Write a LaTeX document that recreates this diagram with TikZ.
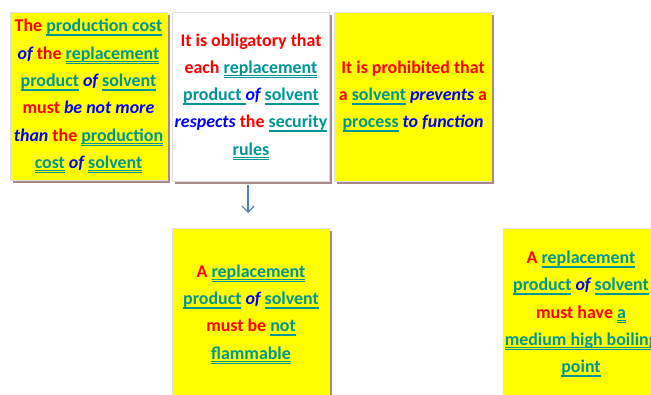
\documentclass[tikz,border=0pt]{standalone}
\usepackage{fontspec}
\setmainfont{Carlito}
\usetikzlibrary{arrows.meta,shadows}
\definecolor{tealc}{RGB}{0,150,150}
\definecolor{boxy}{RGB}{255,255,0}
\definecolor{shad}{RGB}{168,138,138}
\definecolor{arrc}{RGB}{79,129,189}
\newcommand\rd[1]{\textcolor{red}{#1}}
\newcommand\bl[1]{\textcolor{blue}{\itshape #1}}
\newcommand\tl[1]{\textcolor{tealc}{\setbox0\hbox{#1}\rlap{\rule[-2.8pt]{\wd0}{0.8pt}}\rlap{\rule[-4.2pt]{\wd0}{0.7pt}}\box0}}
\begin{document}
\begin{tikzpicture}[x=1pt,y=1pt,
  card/.style={draw=black!12, line width=0.6pt, minimum width=157pt, align=center,
    font=\bfseries\fontsize{17.9}{27.3}\selectfont, inner sep=0pt,
    drop shadow={shadow xshift=2.5pt, shadow yshift=-3pt, fill=shad, opacity=1}},
  yc/.style={card, fill=boxy},
  wc/.style={card, fill=white},
  arr/.style={draw=arrc, line width=1.2pt, -{Straight Barb[length=6pt,width=12pt,line width=1.2pt]}}]
\useasboundingbox (0,0) rectangle (651,-395);
\clip (0,0) rectangle (651,-395);
\node[yc, minimum height=168pt] (b1) at (88.5,-96)
  {\rd{The} \tl{production cost}\\ \bl{of} \rd{the} \tl{replacement}\\ \tl{product} \bl{of} \tl{solvent}\\ \rd{must} \bl{be not more}\\ \bl{than} \rd{the} \tl{production}\\ \tl{cost} \bl{of} \tl{solvent}};
\node[wc, minimum height=169pt] (b2) at (251,-96.5)
  {\rd{It is obligatory that}\\ \rd{each} \tl{replacement}\\ \tl{product\ }\bl{of} \tl{solvent}\\ \bl{respects} \rd{the} \tl{security}\\ \tl{rules}};
\node[yc, minimum height=169pt] (b3) at (413,-96.5)
  {\rd{It is prohibited that}\\ \rd{a} \tl{solvent} \bl{prevents} \rd{a}\\ \tl{process} \bl{to function}};
\node[yc, minimum height=172pt] (b4) at (251,-314)
  {\rd{A} \tl{replacement}\\ \tl{product} \bl{of} \tl{solvent}\\ \rd{must be} \tl{not}\\ \tl{flammable}};
\node[yc, minimum width=156pt, minimum height=172pt] (b5) at (581,-314)
  {\rd{A} \tl{replacement}\\ \tl{product} \bl{of} \tl{solvent}\\ \rd{must have} \tl{a}\\ \tl{medium high boiling}\\ \tl{point}};
\coordinate (as) at (248,-185);
\coordinate (ae) at (248,-213);
\draw[arr] (as) -- (ae);
\end{tikzpicture}
\end{document}
